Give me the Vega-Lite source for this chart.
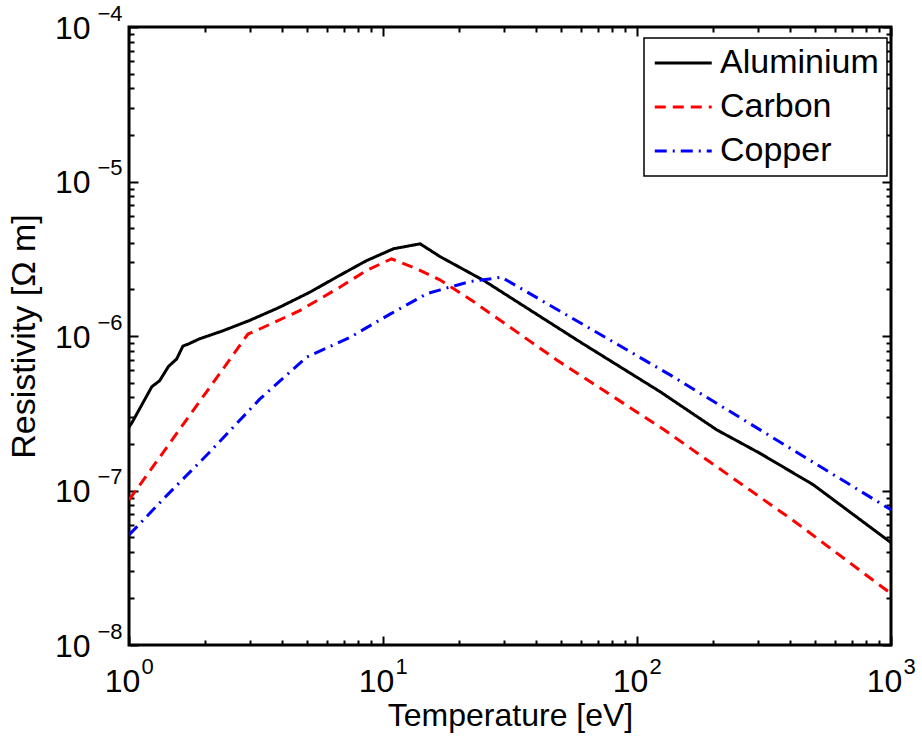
{
  "$schema": "https://vega.github.io/schema/vega-lite/v6.json",
  "width": 762,
  "height": 618,
  "autosize": "none",
  "padding": {"left": 129, "top": 27, "right": 31, "bottom": 97},
  "background": "white",
  "config": {
    "view": {"stroke": "black", "strokeWidth": 3},
    "font": "Liberation Sans",
    "axis": {
      "domain": false,
      "grid": false,
      "tickColor": "black",
      "tickWidth": 2,
      "labelFont": "Liberation Sans",
      "labelFontSize": 32,
      "labelColor": "black",
      "titleFont": "Liberation Sans",
      "titleFontSize": 33,
      "titleFontWeight": "normal",
      "titleColor": "black",
      "labelFlush": false,
      "labelOverlap": false,
      "labelBound": false
    },
    "legend": {"title": null}
  },
  "data": {
    "values": [
      {"material": "Aluminium", "T": 1, "R": 2.57e-7},
      {"material": "Aluminium", "T": 1.03, "R": 2.77e-7},
      {"material": "Aluminium", "T": 1.23, "R": 4.7e-7},
      {"material": "Aluminium", "T": 1.32, "R": 5.13e-7},
      {"material": "Aluminium", "T": 1.43, "R": 6.35e-7},
      {"material": "Aluminium", "T": 1.54, "R": 7.1e-7},
      {"material": "Aluminium", "T": 1.63, "R": 8.6e-7},
      {"material": "Aluminium", "T": 1.72, "R": 8.9e-7},
      {"material": "Aluminium", "T": 1.89, "R": 9.57e-7},
      {"material": "Aluminium", "T": 2.34, "R": 1.08e-6},
      {"material": "Aluminium", "T": 2.98, "R": 1.26e-6},
      {"material": "Aluminium", "T": 3.9, "R": 1.53e-6},
      {"material": "Aluminium", "T": 5.15, "R": 1.92e-6},
      {"material": "Aluminium", "T": 6.76, "R": 2.47e-6},
      {"material": "Aluminium", "T": 8.6, "R": 3.07e-6},
      {"material": "Aluminium", "T": 11, "R": 3.67e-6},
      {"material": "Aluminium", "T": 14, "R": 3.95e-6},
      {"material": "Aluminium", "T": 16.8, "R": 3.26e-6},
      {"material": "Aluminium", "T": 24.9, "R": 2.29e-6},
      {"material": "Aluminium", "T": 60, "R": 9.1e-7},
      {"material": "Aluminium", "T": 123, "R": 4.37e-7},
      {"material": "Aluminium", "T": 206, "R": 2.47e-7},
      {"material": "Aluminium", "T": 305, "R": 1.74e-7},
      {"material": "Aluminium", "T": 494, "R": 1.09e-7},
      {"material": "Aluminium", "T": 1000, "R": 4.6e-8},
      {"material": "Carbon", "T": 1, "R": 8.7e-8},
      {"material": "Carbon", "T": 1.14, "R": 1.17e-7},
      {"material": "Carbon", "T": 1.61, "R": 2.59e-7},
      {"material": "Carbon", "T": 2.28, "R": 5.74e-7},
      {"material": "Carbon", "T": 2.94, "R": 1.03e-6},
      {"material": "Carbon", "T": 3.27, "R": 1.11e-6},
      {"material": "Carbon", "T": 4.7, "R": 1.46e-6},
      {"material": "Carbon", "T": 6.76, "R": 2.07e-6},
      {"material": "Carbon", "T": 8.6, "R": 2.65e-6},
      {"material": "Carbon", "T": 10.8, "R": 3.16e-6},
      {"material": "Carbon", "T": 13.6, "R": 2.72e-6},
      {"material": "Carbon", "T": 16.8, "R": 2.3e-6},
      {"material": "Carbon", "T": 22.7, "R": 1.67e-6},
      {"material": "Carbon", "T": 48.3, "R": 7.0e-7},
      {"material": "Carbon", "T": 127, "R": 2.49e-7},
      {"material": "Carbon", "T": 412, "R": 6.4e-8},
      {"material": "Carbon", "T": 1000, "R": 2.15e-8},
      {"material": "Copper", "T": 1, "R": 5.15e-8},
      {"material": "Copper", "T": 1.4, "R": 9.2e-8},
      {"material": "Copper", "T": 2.07, "R": 1.76e-7},
      {"material": "Copper", "T": 3.27, "R": 3.9e-7},
      {"material": "Copper", "T": 4.99, "R": 7.28e-7},
      {"material": "Copper", "T": 7.41, "R": 9.8e-7},
      {"material": "Copper", "T": 10.7, "R": 1.39e-6},
      {"material": "Copper", "T": 14.9, "R": 1.88e-6},
      {"material": "Copper", "T": 16.8, "R": 1.99e-6},
      {"material": "Copper", "T": 22, "R": 2.25e-6},
      {"material": "Copper", "T": 29.3, "R": 2.4e-6},
      {"material": "Copper", "T": 135, "R": 5.6e-7},
      {"material": "Copper", "T": 1000, "R": 7.5e-8}
    ]
  },
  "resolve": {"axis": {"x": "independent", "y": "independent"}},
  "layer": [
    {
      "mark": {"type": "line", "strokeWidth": 3, "clip": true},
      "encoding": {
        "x": {
          "field": "T", "type": "quantitative",
          "scale": {"type": "log", "domain": [1, 1000], "nice": false},
          "axis": {
            "orient": "bottom", "offset": -9, "tickSize": 9,
            "values": [1, 10, 100, 1000],
            "labelExpr": "'10'", "labelPadding": 21, "labelOffset": -7,
            "title": "Temperature [eV]", "titlePadding": 3, "titleFontSize": 32
          }
        },
        "y": {
          "field": "R", "type": "quantitative",
          "scale": {"type": "log", "domain": [1e-8, 1e-4], "nice": false},
          "axis": {
            "orient": "left", "offset": -9, "tickSize": 9,
            "values": [1e-8, 1e-7, 1e-6, 1e-5, 1e-4],
            "labelExpr": "'10'", "labelPadding": 39, "labelOffset": 1,
            "title": "Resistivity [Ω m]", "titlePadding": 13, "titleFontSize": 34
          }
        },
        "color": {
          "field": "material", "type": "nominal",
          "scale": {"domain": ["Aluminium", "Carbon", "Copper"], "range": ["#000000", "#ff0000", "#0000ff"]},
          "legend": {
            "orient": "none", "legendX": 515, "legendY": 11,
            "strokeColor": "black", "fillColor": "white",
            "padding": 8, "rowPadding": 10,
            "labelFont": "Liberation Sans", "labelFontSize": 34, "labelColor": "black", "labelOffset": 34,
            "symbolType": "M-1,0H3", "symbolSize": 812, "symbolStrokeWidth": 3,
            "title": null,
            "encode": {"legend": {"update": {"strokeWidth": {"value": 1.5}}}}
          }
        },
        "strokeDash": {
          "field": "material", "type": "nominal",
          "scale": {"domain": ["Aluminium", "Carbon", "Copper"], "range": [[1, 0], [11, 7], [12, 6, 2, 6]]},
          "legend": {
            "orient": "none", "legendX": 515, "legendY": 11,
            "strokeColor": "black", "fillColor": "white",
            "padding": 8, "rowPadding": 10,
            "labelFont": "Liberation Sans", "labelFontSize": 34, "labelColor": "black", "labelOffset": 34,
            "symbolType": "M-1,0H3", "symbolSize": 812, "symbolStrokeWidth": 3,
            "title": null,
            "encode": {"legend": {"update": {"strokeWidth": {"value": 1.5}}}}
          }
        }
      }
    },
    {
      "mark": {"type": "line", "opacity": 0},
      "encoding": {
        "x": {
          "field": "T", "type": "quantitative",
          "scale": {"type": "log", "domain": [1, 1000], "nice": false},
          "axis": {"orient": "top", "offset": -9, "tickSize": 9, "values": [1, 10, 100, 1000], "labels": false, "title": null}
        },
        "y": {
          "field": "R", "type": "quantitative",
          "scale": {"type": "log", "domain": [1e-8, 1e-4], "nice": false},
          "axis": {"orient": "right", "offset": -9, "tickSize": 9, "values": [1e-8, 1e-7, 1e-6, 1e-5, 1e-4], "labels": false, "title": null}
        },
        "detail": {"field": "material", "type": "nominal"}
      }
    },
    {
      "mark": {"type": "line", "opacity": 0},
      "encoding": {
        "x": {
          "field": "T", "type": "quantitative",
          "scale": {"type": "log", "domain": [1, 1000], "nice": false},
          "axis": {"orient": "bottom", "offset": -5, "tickSize": 5, "values": [2,3,4,5,6,7,8,9,20,30,40,50,60,70,80,90,200,300,400,500,600,700,800,900], "labels": false, "title": null}
        },
        "y": {
          "field": "R", "type": "quantitative",
          "scale": {"type": "log", "domain": [1e-8, 1e-4], "nice": false},
          "axis": {"orient": "left", "offset": -5, "tickSize": 5, "values": [2e-8,3e-8,4e-8,5e-8,6e-8,7e-8,8e-8,9e-8,2e-7,3e-7,4e-7,5e-7,6e-7,7e-7,8e-7,9e-7,2e-6,3e-6,4e-6,5e-6,6e-6,7e-6,8e-6,9e-6,2e-5,3e-5,4e-5,5e-5,6e-5,7e-5,8e-5,9e-5], "labels": false, "title": null}
        },
        "detail": {"field": "material", "type": "nominal"}
      }
    },
    {
      "mark": {"type": "line", "opacity": 0},
      "encoding": {
        "x": {
          "field": "T", "type": "quantitative",
          "scale": {"type": "log", "domain": [1, 1000], "nice": false},
          "axis": {"orient": "top", "offset": -5, "tickSize": 5, "values": [2,3,4,5,6,7,8,9,20,30,40,50,60,70,80,90,200,300,400,500,600,700,800,900], "labels": false, "title": null}
        },
        "y": {
          "field": "R", "type": "quantitative",
          "scale": {"type": "log", "domain": [1e-8, 1e-4], "nice": false},
          "axis": {"orient": "right", "offset": -5, "tickSize": 5, "values": [2e-8,3e-8,4e-8,5e-8,6e-8,7e-8,8e-8,9e-8,2e-7,3e-7,4e-7,5e-7,6e-7,7e-7,8e-7,9e-7,2e-6,3e-6,4e-6,5e-6,6e-6,7e-6,8e-6,9e-6,2e-5,3e-5,4e-5,5e-5,6e-5,7e-5,8e-5,9e-5], "labels": false, "title": null}
        },
        "detail": {"field": "material", "type": "nominal"}
      }
    },
    {
      "mark": {"type": "line", "opacity": 0},
      "encoding": {
        "x": {
          "field": "T", "type": "quantitative",
          "scale": {"type": "log", "domain": [1, 1000], "nice": false},
          "axis": {
            "orient": "bottom", "ticks": false, "tickSize": 0,
            "values": [1, 10, 100, 1000],
            "labelExpr": "'' + round(log(datum.value)/LN10)",
            "labelFontSize": 22, "labelPadding": 11, "labelOffset": 18, "title": null
          }
        },
        "y": {
          "field": "R", "type": "quantitative",
          "scale": {"type": "log", "domain": [1e-8, 1e-4], "nice": false},
          "axis": {
            "orient": "left", "ticks": false, "tickSize": 0,
            "values": [1e-8, 1e-7, 1e-6, 1e-5, 1e-4],
            "labelExpr": "'−' + round(-log(datum.value)/LN10)",
            "labelFontSize": 22, "labelPadding": 7, "labelOffset": -14, "title": null
          }
        },
        "detail": {"field": "material", "type": "nominal"}
      }
    }
  ]
}
